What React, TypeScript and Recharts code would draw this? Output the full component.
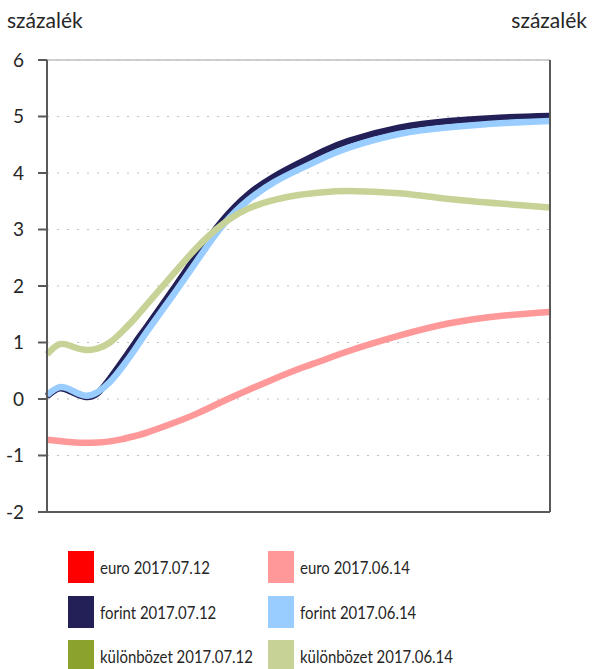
import { LineChart, Line, XAxis, YAxis, CartesianGrid, ReferenceLine } from 'recharts';

// lejárat (év) – a vízszintes tengelyen nincs felirat
const maturities = [0, 0.25, 0.5, 0.75, 1, 1.25, 1.5, 1.75, 2, 2.5, 3, 3.5, 4, 4.5, 5, 5.5, 6, 7, 8, 9, 10];

const forint0712 = [0.05, 0.19, 0.12, 0.04, 0.1, 0.36, 0.67, 0.99, 1.3, 1.93, 2.58, 3.17, 3.62, 3.93, 4.17, 4.39, 4.57, 4.8, 4.92, 4.98, 5.01];
const forint0614 = [0.07, 0.21, 0.15, 0.06, 0.12, 0.3, 0.57, 0.88, 1.21, 1.83, 2.47, 3.08, 3.52, 3.83, 4.06, 4.27, 4.45, 4.69, 4.81, 4.88, 4.92];
const kulonbozet0614 = [0.79, 0.97, 0.93, 0.87, 0.89, 1.0, 1.2, 1.43, 1.69, 2.2, 2.7, 3.1, 3.37, 3.52, 3.61, 3.66, 3.68, 3.64, 3.54, 3.46, 3.39];
const euro0614 = [-0.72, -0.745, -0.765, -0.775, -0.77, -0.75, -0.71, -0.655, -0.59, -0.43, -0.25, -0.04, 0.16, 0.35, 0.53, 0.69, 0.85, 1.12, 1.34, 1.47, 1.54];

const yTicks = [-2, -1, 0, 1, 2, 3, 4, 5, 6];

const legendItems = [
  { name: 'euro 2017.07.12', color: '#ff0000' },
  { name: 'euro 2017.06.14', color: '#ff9999' },
  { name: 'forint 2017.07.12', color: '#222057' },
  { name: 'forint 2017.06.14', color: '#99ccff' },
  { name: 'különbözet 2017.07.12', color: '#8ba22d' },
  { name: 'különbözet 2017.06.14', color: '#c7d396' },
];

const data = maturities.map((t, i) => ({
  t,
  forint0712: forint0712[i],
  forint0614: forint0614[i],
  kulonbozet0614: kulonbozet0614[i],
  euro0614: euro0614[i],
}));

const FONT = 'Lato, "Open Sans", sans-serif';
const AXIS = '#595959';
const TEXT = '#262626';

export default function App() {
  const tickStyle = { fill: TEXT, fontSize: 19, fontFamily: FONT };
  return (
    <div style={{ position: 'absolute', left: 0, top: 0, width: 592, height: 669, background: '#fff', fontFamily: FONT, color: TEXT }}>
      <div style={{ position: 'absolute', left: 7, top: 7, fontSize: 21 }}>százalék</div>
      <div style={{ position: 'absolute', right: 5, top: 7, fontSize: 21 }}>százalék</div>
      <LineChart width={592} height={530} data={data} margin={{ top: 60, right: 0, left: 0, bottom: 0 }}>
        <CartesianGrid yAxisId="left" vertical={false} stroke="#bfbfbf" strokeDasharray="2 8" />
        <ReferenceLine yAxisId="left" y={6} stroke="#bfbfbf" strokeWidth={1.5} />
        <XAxis
          dataKey="t"
          type="number"
          domain={[0, 10]}
          tick={false}
          tickLine={false}
          height={18}
          axisLine={{ stroke: AXIS, strokeWidth: 2 }}
        />
        <YAxis
          yAxisId="left"
          orientation="left"
          width={47}
          domain={[-2, 6]}
          ticks={yTicks}
          interval={0}
          tickSize={9}
          tickMargin={14}
          tick={tickStyle}
          axisLine={{ stroke: AXIS, strokeWidth: 2 }}
          tickLine={{ stroke: AXIS, strokeWidth: 2 }}
        />
        <YAxis
          yAxisId="right"
          orientation="right"
          width={42}
          domain={[-2, 6]}
          ticks={yTicks}
          interval={0}
          tickSize={9}
          tickMargin={11}
          tick={tickStyle}
          axisLine={{ stroke: AXIS, strokeWidth: 2 }}
          tickLine={{ stroke: AXIS, strokeWidth: 2 }}
        />
        <Line yAxisId="left" type="natural" dataKey="euro0614" stroke="#ff9999" strokeWidth={6.5} dot={false} isAnimationActive={false} />
        <Line yAxisId="left" type="natural" dataKey="forint0712" stroke="#222057" strokeWidth={6.5} dot={false} isAnimationActive={false} />
        <Line yAxisId="left" type="natural" dataKey="forint0614" stroke="#99ccff" strokeWidth={6.5} dot={false} isAnimationActive={false} />
        <Line yAxisId="left" type="natural" dataKey="kulonbozet0614" stroke="#c7d396" strokeWidth={6.5} dot={false} isAnimationActive={false} />
      </LineChart>
      {legendItems.map((item, i) => (
        <div
          key={item.name}
          style={{
            position: 'absolute',
            left: i % 2 === 0 ? 68 : 268,
            top: 551 + Math.floor(i / 2) * 44.5,
            display: 'flex',
            alignItems: 'center',
            height: 32,
            fontSize: 18,
            whiteSpace: 'nowrap',
          }}
        >
          <span style={{ display: 'inline-block', width: 26, height: 32, background: item.color, marginRight: 6 }} />
          <span style={{ display: 'inline-block', transform: 'scaleX(0.83)', transformOrigin: 'left center' }}>{item.name}</span>
        </div>
      ))}
    </div>
  );
}
